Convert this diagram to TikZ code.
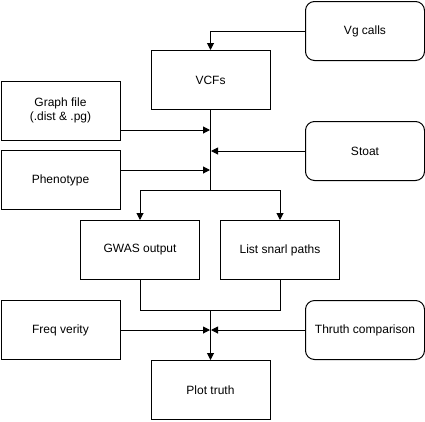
\documentclass[tikz,border=0pt]{standalone}
\usepackage{fontspec}
\setmainfont{Liberation Sans}
\usetikzlibrary{arrows.meta}
\begin{document}
\begin{tikzpicture}[x=1pt,y=-1pt,line width=1pt,
  box/.style={draw=black,line width=1pt,minimum width=119pt,minimum height=59pt,inner sep=0pt,align=center,font=\fontsize{12}{14}\selectfont},
  rbox/.style={box,rounded corners=9pt},
  arr/.style={-{Triangle[length=7pt,width=7pt]}},
  ln/.style={draw=black,line width=1pt}]
\useasboundingbox (0,0) rectangle (425,421);
\node[rbox] (vg) at (365,31) {Vg calls};
\node[box] (vcf) at (210.5,80) {VCFs};
\node[box] (graph) at (60.5,110.5) {Graph file\\(.dist \& .pg)};
\node[rbox] (stoat) at (365,151) {Stoat};
\node[box] (pheno) at (60.5,180) {Phenotype};
\node[box] (gwas) at (140,250) {GWAS output};
\node[box] (snarl) at (280,250) {List snarl paths};
\node[box] (freq) at (60.5,330) {Freq verity};
\node[rbox] (truth) at (365,330) {Thruth comparison};
\node[box] (plot) at (210.5,390) {Plot truth};
\coordinate (j1) at (210.5,190);
\coordinate (j2) at (210.5,310);
\draw[arr] (vg.west) -| (vcf.north);
\draw[ln] (vcf.south) -- (j1);
\draw[arr] (graph.east |- 0,130) -- (210,130);
\draw[arr] (stoat.west) -- (211,151);
\draw[arr] (pheno.east |- 0,170) -- (210,170);
\draw[arr] (j1) -| (gwas.north);
\draw[arr] (j1) -| (snarl.north);
\draw[ln] (gwas.south) |- (j2);
\draw[ln] (snarl.south) |- (j2);
\draw[arr] (j2) -- (plot.north);
\draw[arr] (freq.east) -- (210,330);
\draw[arr] (truth.west) -- (211,330);
\end{tikzpicture}
\end{document}
